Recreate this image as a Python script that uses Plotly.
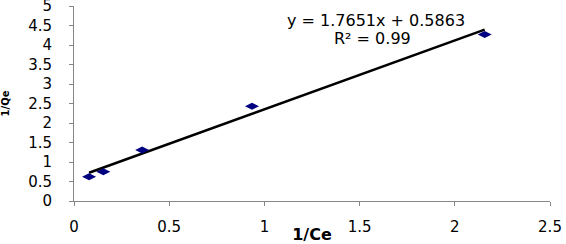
import plotly.graph_objects as go

# Data
inv_ce = [0.079, 0.154, 0.358, 0.935, 2.157]
inv_qe = [0.62, 0.75, 1.31, 2.43, 4.27]
slope = 1.7651
intercept = 0.5863
r2 = 0.99
x_ticks = [0, 0.5, 1, 1.5, 2, 2.5]
y_ticks = [0, 0.5, 1, 1.5, 2, 2.5, 3, 3.5, 4, 4.5, 5]

fit_x = [min(inv_ce), max(inv_ce)]
fit_y = [slope * v + intercept for v in fit_x]

fig = go.Figure()
fig.add_trace(go.Scatter(
    x=fit_x, y=fit_y, mode="lines",
    line=dict(color="black", width=2.5), showlegend=False, hoverinfo="skip"))
fig.add_trace(go.Scatter(
    x=inv_ce, y=inv_qe, mode="markers",
    marker=dict(symbol="diamond-wide", size=10, color="#000080",
                line=dict(width=0)),
    showlegend=False))

font_main = "DejaVu Sans, Arial, sans-serif"
axis_common = dict(
    showgrid=False, zeroline=False, showline=True,
    linecolor="#868686", linewidth=1,
    ticks="outside", ticklen=4, tickcolor="#868686", tickwidth=1,
    tickfont=dict(family=font_main, size=15, color="black"),
    automargin=False, ticklabeloverflow="allow",
)

fig.update_layout(
    width=566, height=244,
    margin=dict(l=74, r=16, t=6, b=43),
    paper_bgcolor="white", plot_bgcolor="white",
    xaxis=dict(range=[0, 2.5], tickvals=x_ticks, ticktext=[f"{v:g}" for v in x_ticks],
               ticklabelstandoff=8,
               title=dict(text="<b>1/Ce</b>", font=dict(family=font_main, size=16, color="black"),
                          standoff=4),
               **axis_common),
    yaxis=dict(range=[0, 5], tickvals=y_ticks, ticktext=[f"{v:g}" for v in y_ticks],
               ticklabelstandoff=14,
               title=dict(text="<b>1/Qe</b>", font=dict(family=font_main, size=10, color="black"),
                          standoff=22),
               **axis_common),
    annotations=[
        dict(x=1.586, y=4.64, xref="x", yref="y", showarrow=False,
             text=f"y = {slope}x + {intercept}",
             font=dict(family=font_main, size=16, color="black")),
        dict(x=1.57, y=4.17, xref="x", yref="y", showarrow=False,
             text=f"R² = {r2}",
             font=dict(family=font_main, size=16, color="black")),
    ],
)

fig.write_html("out.html",
               config={"displayModeBar": False},
               post_script="document.body.style.margin='0';document.body.style.overflow='hidden';")
